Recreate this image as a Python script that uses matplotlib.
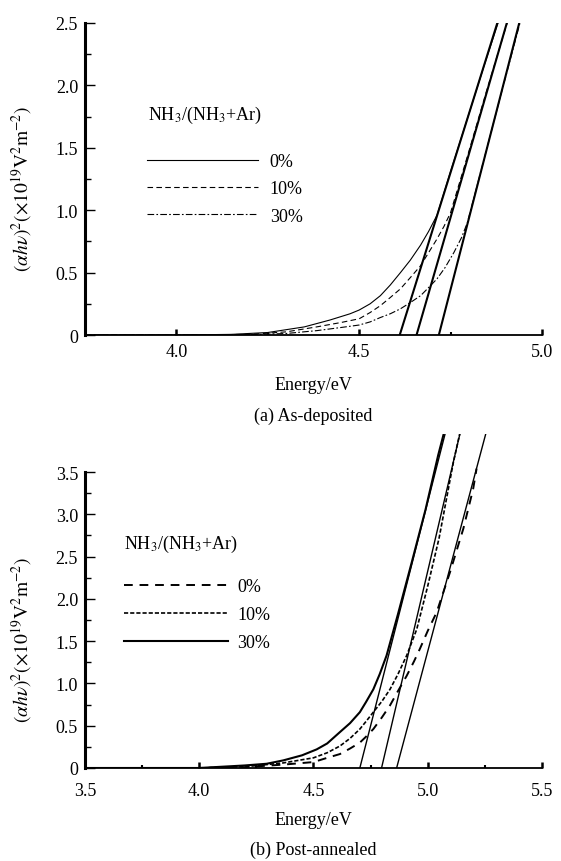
import matplotlib
matplotlib.use("Agg")
import matplotlib.pyplot as plt
from matplotlib.ticker import MultipleLocator, FixedLocator, FixedFormatter

plt.rcParams['font.family'] = ['Liberation Serif', 'DejaVu Serif']
plt.rcParams['mathtext.fontset'] = 'stix'
plt.rcParams['font.size'] = 13

labels = ['0%', '10%', '30%']
energy_a0 = [3.75, 4.0, 4.15, 4.25, 4.35, 4.42, 4.475, 4.5, 4.53, 4.558, 4.585, 4.613, 4.64, 4.668,
             4.69, 4.713, 4.75, 4.80, 4.84, 4.88]
alpha_a0 = [0.0, 0.0, 0.005, 0.02, 0.065, 0.12, 0.17, 0.2, 0.25, 0.315, 0.40, 0.50, 0.60, 0.72,
            0.83, 0.96, 1.31, 1.77, 2.14, 2.5]
energy_a10 = [3.75, 4.0, 4.2, 4.3, 4.384, 4.45, 4.5, 4.53, 4.558, 4.585, 4.613, 4.64, 4.668, 4.69,
              4.713, 4.732, 4.75, 4.80, 4.85, 4.905]
alpha_a10 = [0.0, 0.0, 0.005, 0.025, 0.065, 0.10, 0.13, 0.18, 0.235, 0.30, 0.37, 0.46, 0.555, 0.66,
             0.77, 0.87, 0.98, 1.47, 1.97, 2.5]
energy_a30 = [3.75, 4.0, 4.2, 4.3, 4.384, 4.45, 4.5, 4.53, 4.558, 4.585, 4.613, 4.64, 4.668, 4.69,
              4.713, 4.735, 4.759, 4.78, 4.796, 4.84, 4.89, 4.94]
alpha_a30 = [0.0, 0.0, 0.003, 0.012, 0.035, 0.06, 0.08, 0.105, 0.14, 0.17, 0.21, 0.26, 0.315, 0.38,
             0.45, 0.54, 0.66, 0.78, 0.90, 1.39, 1.95, 2.5]
# linear extrapolation lines (start, end energy) for each sample
fit_a_energy = [[4.611, 4.878], [4.657, 4.904], [4.718, 4.938]]
fit_a_alpha = [0.0, 2.5]

# (b) post-annealed
energy_b0 = [3.5, 4.0, 4.2, 4.368, 4.5, 4.56, 4.616, 4.66, 4.703, 4.73, 4.762, 4.80, 4.835, 4.87,
             4.908, 4.94, 4.966, 5.0, 5.039, 5.097, 5.156, 5.199, 5.214]
alpha_b0 = [0.0, 0.0, 0.01, 0.04, 0.07, 0.12, 0.165, 0.23, 0.30, 0.37, 0.46, 0.60, 0.74, 0.91,
            1.09, 1.26, 1.41, 1.62, 1.84, 2.31, 2.83, 3.30, 3.54]
energy_b10 = [3.5, 4.0, 4.2, 4.368, 4.5, 4.56, 4.616, 4.66, 4.703, 4.73, 4.762, 4.80, 4.835, 4.87,
              4.908, 4.952, 5.0, 5.05, 5.112, 5.14]
alpha_b10 = [0.0, 0.0, 0.015, 0.06, 0.12, 0.18, 0.26, 0.35, 0.46, 0.55, 0.66, 0.79, 0.93, 1.11,
             1.33, 1.64, 2.15, 2.72, 3.61, 3.95]
energy_b30 = [3.5, 4.0, 4.2, 4.295, 4.368, 4.45, 4.514, 4.56, 4.616, 4.66, 4.703, 4.73, 4.762, 4.79,
              4.82, 4.87, 4.93, 4.99, 5.046, 5.07]
alpha_b30 = [0.0, 0.0, 0.03, 0.05, 0.09, 0.15, 0.22, 0.29, 0.425, 0.53, 0.66, 0.78, 0.93, 1.11,
             1.33, 1.82, 2.43, 3.05, 3.7, 3.95]
fit_b_energy = [[4.703, 5.076], [4.798, 5.141], [4.864, 5.254]]
fit_b_alpha = [0.0, 3.95]

ylabel = r'$(\alpha h\nu)^{2}(\times10^{19}\mathrm{V}^{2}\mathrm{m}^{-2})$'
legend_title = r'NH$_3$/(NH$_3$+Ar)'

fig = plt.figure(figsize=(5.61, 8.62), dpi=100)
ax1 = fig.add_axes([0.1515, 0.6102, 0.8145, 0.362])
ax2 = fig.add_axes([0.1515, 0.1079, 0.8145, 0.3875])


def style_axes(ax, ymax_spine, xpad, xlabelpad):
    for s in ['top', 'right']:
        ax.spines[s].set_visible(False)
    ax.spines['left'].set_linewidth(2.2)
    ax.spines['bottom'].set_linewidth(1.3)
    ax.spines['left'].set_bounds(0, ymax_spine)
    ax.tick_params(axis='y', which='major', direction='in', length=7, width=1.0, pad=5)
    ax.tick_params(axis='y', which='minor', direction='in', length=4, width=1.0)
    ax.tick_params(axis='x', which='major', direction='in', length=4, width=1.8, pad=xpad)
    ax.tick_params(axis='x', which='minor', direction='in', length=2.5, width=1.5)
    ax.set_xlabel('Energy/eV', labelpad=xlabelpad)
    ax.set_ylabel(ylabel, fontsize=14)


# ---- (a) ----
l0, = ax1.plot(energy_a0, alpha_a0, color='k', lw=0.8, ls='-')
l1, = ax1.plot(energy_a10, alpha_a10, color='k', lw=0.8, ls=(0, (5, 3)))
l2, = ax1.plot(energy_a30, alpha_a30, color='k', lw=0.8, ls=(0, (6, 2, 1.5, 2)))
for xs in fit_a_energy:
    ax1.plot(xs, fit_a_alpha, color='k', lw=1.5)
ax1.set_xlim(3.75, 5.0)
ax1.set_ylim(0, 2.5)
ax1.xaxis.set_major_locator(FixedLocator([4.0, 4.5, 5.0]))
ax1.xaxis.set_minor_locator(FixedLocator([4.25, 4.75]))
ax1.yaxis.set_major_locator(FixedLocator([0, 0.5, 1.0, 1.5, 2.0, 2.5]))
ax1.yaxis.set_major_formatter(FixedFormatter(['0', '0.5', '1.0', '1.5', '2.0', '2.5']))
ax1.yaxis.set_minor_locator(MultipleLocator(0.25))
style_axes(ax1, 2.5, xpad=6, xlabelpad=11)
ax1.yaxis.set_label_coords(-0.112, 0.47)
ax1.text(0.138, 0.708, legend_title, transform=ax1.transAxes, va='center', ha='left')
ax1.legend([l0, l1, l2], labels, loc='upper left', bbox_to_anchor=(0.117, 0.612),
           frameon=False, handlelength=6.1, handletextpad=0.67, labelspacing=0.57,
           borderpad=0, fontsize=13)
fig.text(0.558, 0.5174, '(a) As-deposited', ha='center', va='center')

# ---- (b) ----
m0, = ax2.plot(energy_b0, alpha_b0, color='k', lw=1.4, ls=(0, (4.5, 3.5)))
m1, = ax2.plot(energy_b10, alpha_b10, color='k', lw=1.2, ls=(0, (2.5, 1.2)))
m2, = ax2.plot(energy_b30, alpha_b30, color='k', lw=1.5, ls='-')
for xs in fit_b_energy:
    ax2.plot(xs, fit_b_alpha, color='k', lw=1.0)
ax2.set_xlim(3.5, 5.5)
ax2.set_ylim(0, 3.95)
ax2.xaxis.set_major_locator(FixedLocator([3.5, 4.0, 4.5, 5.0, 5.5]))
ax2.xaxis.set_minor_locator(FixedLocator([3.75, 4.25, 4.75, 5.25]))
ax2.yaxis.set_major_locator(FixedLocator([0, 0.5, 1.0, 1.5, 2.0, 2.5, 3.0, 3.5]))
ax2.yaxis.set_major_formatter(FixedFormatter(['0', '0.5', '1.0', '1.5', '2.0', '2.5', '3.0', '3.5']))
ax2.yaxis.set_minor_locator(FixedLocator([0.25, 0.75, 1.25, 1.75, 2.25, 2.75, 3.25]))
style_axes(ax2, 3.5, xpad=10, xlabelpad=9)
ax2.yaxis.set_label_coords(-0.112, 0.386)
ax2.text(0.085, 0.671, legend_title, transform=ax2.transAxes, va='center', ha='left')
ax2.legend([m0, m1, m2], labels, loc='upper left', bbox_to_anchor=(0.0646, 0.596),
           frameon=False, handlelength=5.8, handletextpad=0.5, labelspacing=0.62,
           borderpad=0, fontsize=13)
fig.text(0.558, 0.0139, '(b) Post-annealed', ha='center', va='center')

fig.savefig('out.png', dpi=100)
